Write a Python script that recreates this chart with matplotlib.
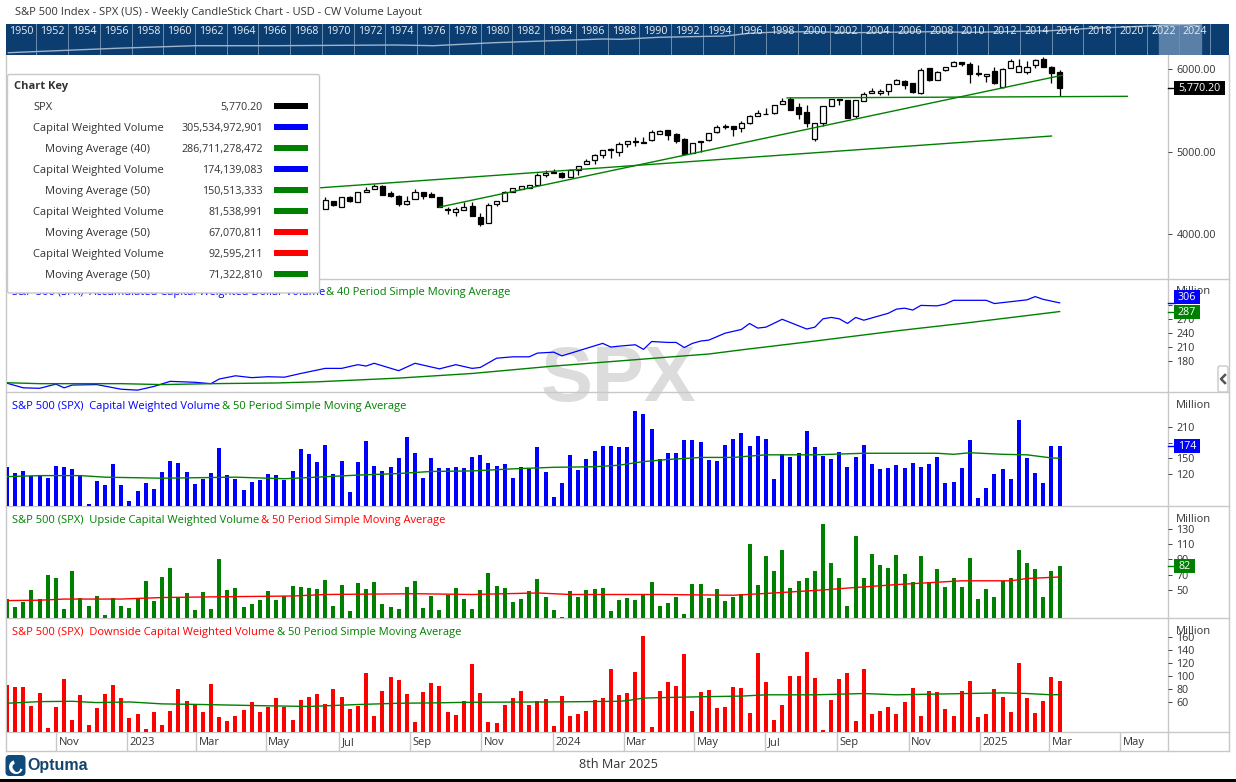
#!/usr/bin/env python3
"""S&P 500 weekly candlestick chart with capital weighted volume panels (Optuma layout)."""
import matplotlib
matplotlib.use("Agg")
import matplotlib.pyplot as plt
import numpy as np
from matplotlib.patches import FancyBboxPatch, Rectangle, Circle, Wedge

plt.rcParams["font.family"] = ["Open Sans", "DejaVu Sans"]

# -----------------------------------------------------------
# Data
# -----------------------------------------------------------
# candles: first visible bar is week 39, earlier ones sit behind the chart key
candle_first = 39
opens = [4299, 4396, 4331, 4444, 4384, 4505, 4541, 4577, 4493, 4456,
         4367, 4420, 4505, 4480, 4444, 4291, 4270, 4287, 4335, 4202,
         4129, 4359, 4396, 4505, 4549, 4557, 4590, 4719, 4755, 4735,
         4695, 4775, 4844, 4893, 4953, 5030, 4990, 5087, 5115, 5111,
         5143, 5208, 5256, 5212, 5147, 4985, 5131, 5135, 5236, 5297,
         5305, 5289, 5341, 5426, 5454, 5462, 5571, 5636, 5535, 5475,
         5147, 5341, 5547, 5640, 5624, 5434, 5608, 5705, 5713, 5729,
         5822, 5850, 5826, 5713, 6008, 5862, 5984, 6036, 6081, 6056,
         5935, 5911, 5971, 5778, 6008, 5959, 5959, 6044, 6117, 6020, 5959]
highs = [4444, 4396, 4452, 4456, 4513, 4573, 4606, 4594, 4517, 4472,
         4456, 4541, 4505, 4505, 4452, 4331, 4323, 4392, 4384, 4250,
         4371, 4404, 4517, 4561, 4586, 4598, 4743, 4771, 4783, 4747,
         4792, 4828, 4905, 4965, 5022, 5038, 5115, 5131, 5179, 5175,
         5256, 5256, 5256, 5220, 5159, 5107, 5131, 5220, 5317, 5333,
         5305, 5369, 5438, 5499, 5527, 5559, 5648, 5664, 5584, 5563,
         5349, 5555, 5632, 5640, 5624, 5628, 5725, 5769, 5753, 5814,
         5874, 5862, 5826, 6008, 6008, 5971, 6028, 6097, 6081, 6081,
         6048, 5935, 6020, 6008, 6117, 6117, 6093, 6117, 6141, 6032, 5984]
lows = [4299, 4339, 4331, 4392, 4384, 4505, 4541, 4476, 4452, 4343,
        4355, 4420, 4424, 4452, 4323, 4242, 4222, 4287, 4222, 4101,
        4129, 4343, 4396, 4505, 4549, 4557, 4590, 4695, 4743, 4683,
        4695, 4719, 4844, 4852, 4925, 4925, 4949, 5058, 5070, 5099,
        5131, 5208, 5139, 5107, 4969, 4985, 4998, 5131, 5220, 5273,
        5192, 5240, 5329, 5426, 5450, 5450, 5571, 5503, 5398, 5301,
        5123, 5309, 5547, 5567, 5410, 5410, 5608, 5705, 5685, 5685,
        5814, 5757, 5705, 5701, 5858, 5862, 5971, 6036, 6032, 5834,
        5915, 5838, 5814, 5769, 6008, 5959, 5939, 6008, 6020, 5834, 5668]
closes = [4408, 4355, 4444, 4404, 4505, 4529, 4577, 4476, 4464, 4367,
          4396, 4505, 4464, 4452, 4323, 4299, 4299, 4323, 4222, 4125,
          4347, 4404, 4505, 4553, 4586, 4598, 4711, 4743, 4743, 4695,
          4779, 4828, 4880, 4953, 5022, 5014, 5087, 5131, 5123, 5103,
          5232, 5244, 5204, 5131, 4969, 5099, 5115, 5220, 5293, 5305,
          5277, 5345, 5426, 5462, 5458, 5559, 5608, 5503, 5458, 5349,
          5341, 5547, 5632, 5628, 5410, 5620, 5693, 5729, 5737, 5814,
          5862, 5810, 5725, 5984, 5870, 5959, 6028, 6081, 6056, 5935,
          5955, 5935, 5834, 5996, 6093, 6032, 6020, 6105, 6020, 5955, 5770.2]

# green trendlines on the price panel: (week, price) pairs
trend_a_wk, trend_a_px = [38, 128], [4558, 5188]
trend_b_wk, trend_b_px = [53, 129.3], [4327, 5924]
trend_c_wk, trend_c_px = [95.6, 137.3], [5650, 5669]

# accumulated capital weighted dollar volume, billions
accum_wk = [0, 2, 4, 6, 7, 8, 11, 14, 16, 18, 20, 23, 25, 26, 28, 30, 32, 34, 36, 39,
            41, 43, 44, 45, 48, 50, 53, 55, 57, 58, 60, 62, 64, 65, 67, 68, 73, 74, 75,
            77, 78, 79, 81, 82, 83, 84, 85, 86, 88, 90, 91, 92, 93, 95, 98, 99, 100,
            101, 102, 103, 104, 105, 108, 109, 110, 111, 112, 114, 115, 116, 120, 121,
            122, 125, 126, 127, 129]
accum_val = [132, 122, 121, 130, 122, 128, 129, 119, 117, 125, 136, 134, 131, 141, 148, 144,
             146, 145, 153, 164, 164, 172, 169, 175, 159, 175, 163, 172, 164, 166, 186, 189,
             189, 197, 199, 191, 218, 210, 212, 215, 205, 222, 220, 220, 209, 218, 223, 225,
             240, 248, 261, 251, 253, 270, 249, 253, 271, 274, 271, 261, 274, 268, 283, 292,
             294, 290, 300, 299, 303, 311, 311, 304, 306, 312, 319, 313, 305.5]
accum_ma_wk = [0, 4, 14, 19, 25, 33, 38, 48, 57, 67, 75, 83, 86, 90, 99, 109, 118, 129]
accum_ma_val = [133, 131, 131, 129, 131, 132.5, 135, 143, 153, 169, 180, 191, 195, 204,
                223, 245, 263, 286.7]

# weekly volume bars, millions
capital_vol = [134, 122, 126, 116, 118, 112, 135, 133, 130, 116, 62, 107, 99, 139, 99, 68,
               87, 103, 91, 124, 145, 141, 124, 101, 110, 122, 170, 118, 110, 89, 105, 108,
               120, 118, 108, 126, 168, 158, 143, 176, 120, 145, 85, 143, 183, 135, 126, 133,
               151, 191, 160, 112, 151, 132, 132, 133, 132, 153, 157, 141, 135, 139, 112, 133,
               130, 172, 124, 76, 103, 157, 128, 149, 164, 174, 174, 172,
               172, 241, 235, 207, 149, 160, 160, 185, 185, 182, 147, 145, 176, 187, 199, 174,
               193, 187, 110, 158, 153, 160, 203, 172, 155, 149, 162, 133, 153, 176, 139, 130,
               132, 137, 132, 141, 133, 139, 153, 103, 105, 132, 185, 74, 93, 120, 130, 110,
               224, 151, 122, 103, 174, 174]
capital_ma_wk = [0, 4, 9, 12, 19, 28, 34, 38, 43, 48, 52, 57, 62, 67, 72, 75, 78, 81, 85, 89,
                 93, 99, 105, 114, 116, 118, 122, 125, 128, 129]
capital_ma_val = [115, 117, 117, 114, 112, 114, 111, 114, 118, 121, 125, 126, 130, 133, 134,
                  137, 144, 148, 152, 152, 157, 157, 160, 160, 158, 161, 158, 157, 151, 150.5]

upside_vol = [38, 28, 34, 50, 38, 70, 66, 25, 75, 39, 29, 42, 17, 39, 29, 26, 38, 62, 35, 67,
              79, 39, 46, 24, 47, 25, 90, 50, 53, 28, 32, 37, 49, 37, 42, 55, 54, 53, 51, 63,
              29, 57, 22, 59, 51, 61, 32, 28, 25, 54, 62, 26, 42, 24, 43, 53, 38, 25, 50, 72,
              55, 53, 34, 38, 49, 65, 41, 24, 14, 49, 41, 50, 51, 53, 22, 37,
              39, 37, 45, 61, 29, 33, 41, 18, 58, 58, 39, 51, 35, 41, 45, 111, 57, 94, 75,
              103, 53, 62, 66, 75, 137, 86, 66, 29, 121, 66, 97, 83, 79, 96, 71, 61, 95, 59,
              78, 54, 66, 54, 92, 38, 51, 41, 62, 66, 103, 86, 78, 41, 75, 82]
upside_ma_wk = [0, 4, 7, 14, 19, 26, 35, 39, 50, 57, 65, 69, 75, 80, 89, 94, 100, 105, 109,
                117, 123, 125, 129]
upside_ma_val = [36, 36.5, 38, 38, 40, 41, 42, 44, 45, 44, 46, 44, 44, 44, 43, 46, 50, 54, 57,
                 62, 62, 65, 67]

downside_vol = [86, 83, 83, 54, 74, 20, 52, 96, 32, 71, 24, 51, 72, 86, 66, 35, 41, 18, 45, 24,
                46, 80, 62, 55, 45, 88, 37, 31, 38, 48, 60, 45, 52, 66, 52, 32, 63, 68, 72, 57,
                80, 68, 49, 54, 105, 38, 77, 99, 94, 72, 29, 75, 89, 85, 45, 40, 62, 119, 74,
                29, 28, 55, 66, 77, 55, 62, 65, 23, 69, 38, 41, 46, 63, 66, 111, 71,
                74, 106, 162, 21, 77, 91, 85, 134, 46, 75, 79, 51, 52, 83, 82, 43, 136, 91, 32,
                55, 100, 100, 137, 97, 17, 63, 96, 105, 31, 111, 41, 46, 52, 41, 60, 82, 38, 77,
                75, 49, 38, 77, 92, 37, 41, 80, 68, 45, 120, 66, 43, 62, 99, 92.6]
downside_ma_wk = [0, 4, 8, 11, 15, 19, 24, 32, 37, 43, 48, 52, 57, 67, 75, 76, 78, 85, 90, 93,
                  99, 105, 109, 122, 125, 128, 129]
downside_ma_val = [58, 60.5, 61, 59, 60, 57, 56, 54, 53, 56, 58, 58.5, 59.5, 60, 61, 62, 66, 68,
                   69, 71, 71, 73, 71, 74, 73, 71, 71.3]

# date strip
month_wk = [6, 14.7, 23.2, 31.7, 40.7, 49.4, 58.1, 66.9, 75.6, 84.25, 92.9, 101.7, 110.5,
            119.2, 127.7, 136.4]
month_lab = ["Nov", "2023", "Mar", "May", "Jul", "Sep", "Nov", "2024", "Mar", "May", "Jul",
             "Sep", "Nov", "2025", "Mar", "May"]

# overview strip, full history
over_year = [1949.2, 1956, 1961, 1966, 1973.6, 1976, 1979.8, 1983.5, 1986.7, 1987.8, 1990.2,
             1994.4, 1995.9, 1997.7, 2000, 2002.5, 2007.5, 2010, 2014.9, 2017.4, 2021.1,
             2023.4, 2024.3]
over_level = [2.3, 6.7, 9.3, 9.3, 10, 9.3, 12.3, 14.3, 16, 15.7, 17.7, 19, 21.7, 23, 23.3,
              22.3, 23.3, 22.7, 24.3, 26.7, 29, 30.7, 29]
over_labels = list(range(1950, 2026, 2))

# chart key
key_names = ["SPX", "Capital Weighted Volume", "Moving Average (40)", "Capital Weighted Volume",
             "Moving Average (50)", "Capital Weighted Volume", "Moving Average (50)",
             "Capital Weighted Volume", "Moving Average (50)"]
key_values = ["5,770.20", "305,534,972,901", "286,711,278,472", "174,139,083", "150,513,333",
              "81,538,991", "67,070,811", "92,595,211", "71,322,810"]
BLUE, GREEN, RED = "#0000ff", "#008000", "#ff0000"
key_colors = ["black", BLUE, GREEN, BLUE, GREEN, GREEN, RED, RED, GREEN]

# -----------------------------------------------------------
# Layout helpers (everything is placed in screen pixels)
# -----------------------------------------------------------
W, H = 1236, 782
BAR_STEP = 8.16      # px per week
BAR_X0 = 7.0         # px of week 0
AX_L, AX_R = 6.5, 1168
GRID = "#c8c8c8"
TEXT = "#333333"
FS = 8.0
FS_NUM = 7.75        # digits run a little narrower than the words

fig = plt.figure(figsize=(W / 100, H / 100), dpi=100, facecolor="white")


def ax_px(left, top, right, bottom, **kw):
    return fig.add_axes([left / W, 1 - bottom / H, (right - left) / W, (bottom - top) / H], **kw)


def week_lim(left, right):
    return (left - BAR_X0) / BAR_STEP, (right - BAR_X0) / BAR_STEP


# pixel canvases behind and in front of the panels
bg = ax_px(0, 0, W, H, zorder=0)
fg = ax_px(0, 0, W, H, zorder=10)
for a in (bg, fg):
    a.set_xlim(0, W)
    a.set_ylim(H, 0)
    a.axis("off")
fg.patch.set_alpha(0)


def panel(top, bottom, ymin, ymax, ticks, fmt="{:.0f}", million=None, hidden=()):
    ax = ax_px(AX_L, top, AX_R, bottom, zorder=2)
    ax.patch.set_alpha(0)
    ax.set_xlim(*week_lim(AX_L, AX_R))
    ax.set_ylim(ymin, ymax)
    for s in ax.spines.values():
        s.set_visible(False)
    ax.set_xticks([])
    ax.yaxis.tick_right()
    ax.set_yticks(ticks)
    # ticks that sit completely under a value flag keep the mark but lose the label
    ax.set_yticklabels(["" if t in hidden else fmt.format(t) for t in ticks],
                       fontsize=FS_NUM, color=TEXT)
    ax.tick_params(axis="y", direction="out", length=3, width=0.7, color="#444444", pad=3)
    if million is not None:
        bg.text(1176, million, "Million", fontsize=FS, color=TEXT, va="center", ha="left")
    return ax


def tag(ax, value, label, color, width=26, shift=0):
    """Coloured value flag sitting on the right axis."""
    trans = ax.get_yaxis_transform()
    axw = AX_R - AX_L
    y_px = ax.transData.transform((0, value))[1]
    top = H - y_px - 7 + shift
    fg.add_patch(Rectangle((1174, top), width, 14, fc=color, ec="none", zorder=5))
    fg.text(1174 + width / 2, top + 7.5, label, color="white", fontsize=FS_NUM, ha="center",
            va="center", zorder=6)
    ax.plot([1, 1 + 7 / axw], [value, value], transform=trans, color=color, lw=1, clip_on=False)


# -----------------------------------------------------------
# Header + overview strip
# -----------------------------------------------------------
bg.text(15, 13, "S&P 500 Index - SPX (US) - Weekly CandleStick Chart - USD - CW Volume Layout",
        fontsize=8.05, color=TEXT, va="center")

ov = ax_px(6, 24, 1229, 55, zorder=1, facecolor="#0b3d70")
ov.set_xlim(1950 + (6 - 21) / 15.865, 1950 + (1229 - 21) / 15.865)
ov.set_ylim(0, 31)
ov.axis("off")
ov.add_patch(Rectangle((0, 0), 1, 1, transform=ov.transAxes, fc="#0b3d70", ec="none", zorder=0))
ov.axvspan(2021.7, 2024.4, color="#5a80a8", zorder=1)
for yr in over_labels:
    ov.axvline(yr + 0.97, color="#6f8fae", lw=0.7, zorder=2)
ov.plot(over_year, over_level, color="#9fb4ca", lw=1, zorder=3)
for yr in over_labels:
    ov.text(yr, 0.76, str(yr), transform=ov.get_xaxis_transform(), color="#e8eef4",
            fontsize=FS_NUM, ha="center", va="center", zorder=4)

# -----------------------------------------------------------
# Price panel
# -----------------------------------------------------------
p1 = panel(55, 279, 3455, 6170, [4000, 5000, 6000], fmt="{:.2f}")
wk = candle_first + np.arange(len(opens))
op, hi, lo, cl = map(np.array, (opens, highs, lows, closes))
p1.vlines(wk, lo, hi, color="black", lw=0.9, zorder=2)
face = ["white" if c >= o else "black" for o, c in zip(op, cl)]
p1.bar(wk, np.abs(cl - op), bottom=np.minimum(op, cl), width=0.62, color=face,
       edgecolor="black", linewidth=0.9, zorder=3)
for xs, ys in ((trend_a_wk, trend_a_px), (trend_b_wk, trend_b_px), (trend_c_wk, trend_c_px)):
    p1.plot(xs, ys, color=GREEN, lw=1, zorder=4)

# price flag is wider than the others
tag(p1, 5770.2, "5,770.20", "black", width=51)

# -----------------------------------------------------------
# Indicator panels
# -----------------------------------------------------------
p2 = panel(279, 392, 113, 357, [180, 210, 240, 270, 300], million=292, hidden=(300,))
p2.plot(accum_wk, accum_val, color=BLUE, lw=0.9)
p2.plot(accum_ma_wk, accum_ma_val, color=GREEN, lw=1)
tag(p2, 305.5, "306", BLUE, shift=-6)
tag(p2, 286.7, "287", GREEN)

p3 = panel(393, 506, 58.5, 276, [120, 150, 180, 210], million=406, hidden=(180,))
p3.bar(np.arange(len(capital_vol)), capital_vol, width=0.49, color=BLUE)
p3.plot(capital_ma_wk, capital_ma_val, color=GREEN, lw=1)
tag(p3, 174.1, "174", BLUE)

p4 = panel(507, 618, 13.1, 159, [50, 70, 90, 110, 130], million=519)
p4.bar(np.arange(len(upside_vol)), upside_vol, width=0.49, color=GREEN)
p4.plot(upside_ma_wk, upside_ma_val, color=RED, lw=1)
tag(p4, 81.5, "82", GREEN, width=21)

p5 = panel(619, 732, 13.6, 188, [60, 80, 100, 120, 140, 160], million=631)
p5.bar(np.arange(len(downside_vol)), downside_vol, width=0.49, color=RED)
p5.plot(downside_ma_wk, downside_ma_val, color=GREEN, lw=1)

# panel headers, two colours each
headers = [
    (293, "S&P 500 (SPX)  Accumulated Capital Weighted Dollar Volume", BLUE, 12,
     "& 40 Period Simple Moving Average", GREEN, 326),
    (407, "S&P 500 (SPX)  Capital Weighted Volume", BLUE, 12,
     "& 50 Period Simple Moving Average", GREEN, 222),
    (520, "S&P 500 (SPX)  Upside Capital Weighted Volume", GREEN, 12,
     "& 50 Period Simple Moving Average", RED, 261),
    (632, "S&P 500 (SPX)  Downside Capital Weighted Volume", RED, 12,
     "& 50 Period Simple Moving Average", GREEN, 277),
]
for y, t1, c1, x1, t2, c2, x2 in headers:
    bg.text(x1, y, t1, color=c1, fontsize=FS, va="center")
    bg.text(x2, y, t2, color=c2, fontsize=FS, va="center")

# watermark
bg.text(619, 380, "SPX", family="Liberation Sans", weight="bold", fontsize=56, color="#dcdcdc",
        ha="center", va="center", zorder=0)

# panel borders
for y in (279, 392, 506, 618, 732, 751):
    bg.plot([6, 1229], [y, y], color=GRID, lw=1)
bg.plot([6, 6], [55, 751], color=GRID, lw=1)
bg.plot([1168, 1168], [55, 751], color=GRID, lw=1)
bg.plot([1229, 1229], [55, 751], color=GRID, lw=1)

# collapse tab on the right edge
fg.add_patch(FancyBboxPatch((1218, 366), 10, 26, boxstyle="round,pad=0,rounding_size=2",
                            fc="white", ec=GRID, lw=1))
fg.plot([1225, 1221, 1225], [375, 379, 383], color="#555555", lw=1.8)

# -----------------------------------------------------------
# Date strip
# -----------------------------------------------------------
dx = ax_px(AX_L, 732, 1229, 751, zorder=3)
dx.patch.set_alpha(0)
dx.set_xlim(*week_lim(AX_L, 1229))
dx.set_ylim(0, 1)
dx.axis("off")
dx.vlines(month_wk, 0, 1, color=GRID, lw=1)
for m, lab in zip(month_wk, month_lab):
    dx.text(m + 0.3, 0.45, lab, fontsize=FS, color=TEXT, va="center", ha="left")

# footer
bg.text(618, 765, "8th Mar 2025", fontsize=9.1, color=TEXT, ha="center", va="center")
bg.add_patch(Rectangle((0, 779), W, 3, fc="black", ec="none"))
fg.add_patch(FancyBboxPatch((5.5, 755), 20, 21, boxstyle="round,pad=0,rounding_size=4",
                            fc="#0f4a7c", ec="none"))
fg.add_patch(Wedge((16, 767), 7, 20, 250, width=3.5, fc="white", ec="none"))
fg.add_patch(Circle((17, 769), 3, fc="#0f4a7c", ec="none"))
fg.text(27.5, 765.5, "Optuma", family="Liberation Sans", weight="bold",
        fontsize=11.5, color="#12446e", va="center", ha="left")

# -----------------------------------------------------------
# Chart key
# -----------------------------------------------------------
fg.add_patch(FancyBboxPatch((7.5, 74.5), 312, 218.5, boxstyle="round,pad=0,rounding_size=2",
                            fc="white", ec=GRID, lw=1, zorder=2))
fg.text(14, 87, "Chart Key", weight="bold", fontsize=FS, color=TEXT, va="center", zorder=3)
for i, (name, val, col) in enumerate(zip(key_names, key_values, key_colors)):
    y = 106 + 21 * i
    x = 45 if name.startswith("Moving") else 33
    fg.text(x, y + 1.5, name, fontsize=FS, color=TEXT, va="center", zorder=3)
    fg.text(263, y + 1.5, val, fontsize=FS_NUM, color=TEXT, va="center", ha="right", zorder=3)
    fg.add_patch(Rectangle((274, y - 3.5), 34, 6, fc=col, ec="none", zorder=3))

fig.savefig("out.png", dpi=100)
